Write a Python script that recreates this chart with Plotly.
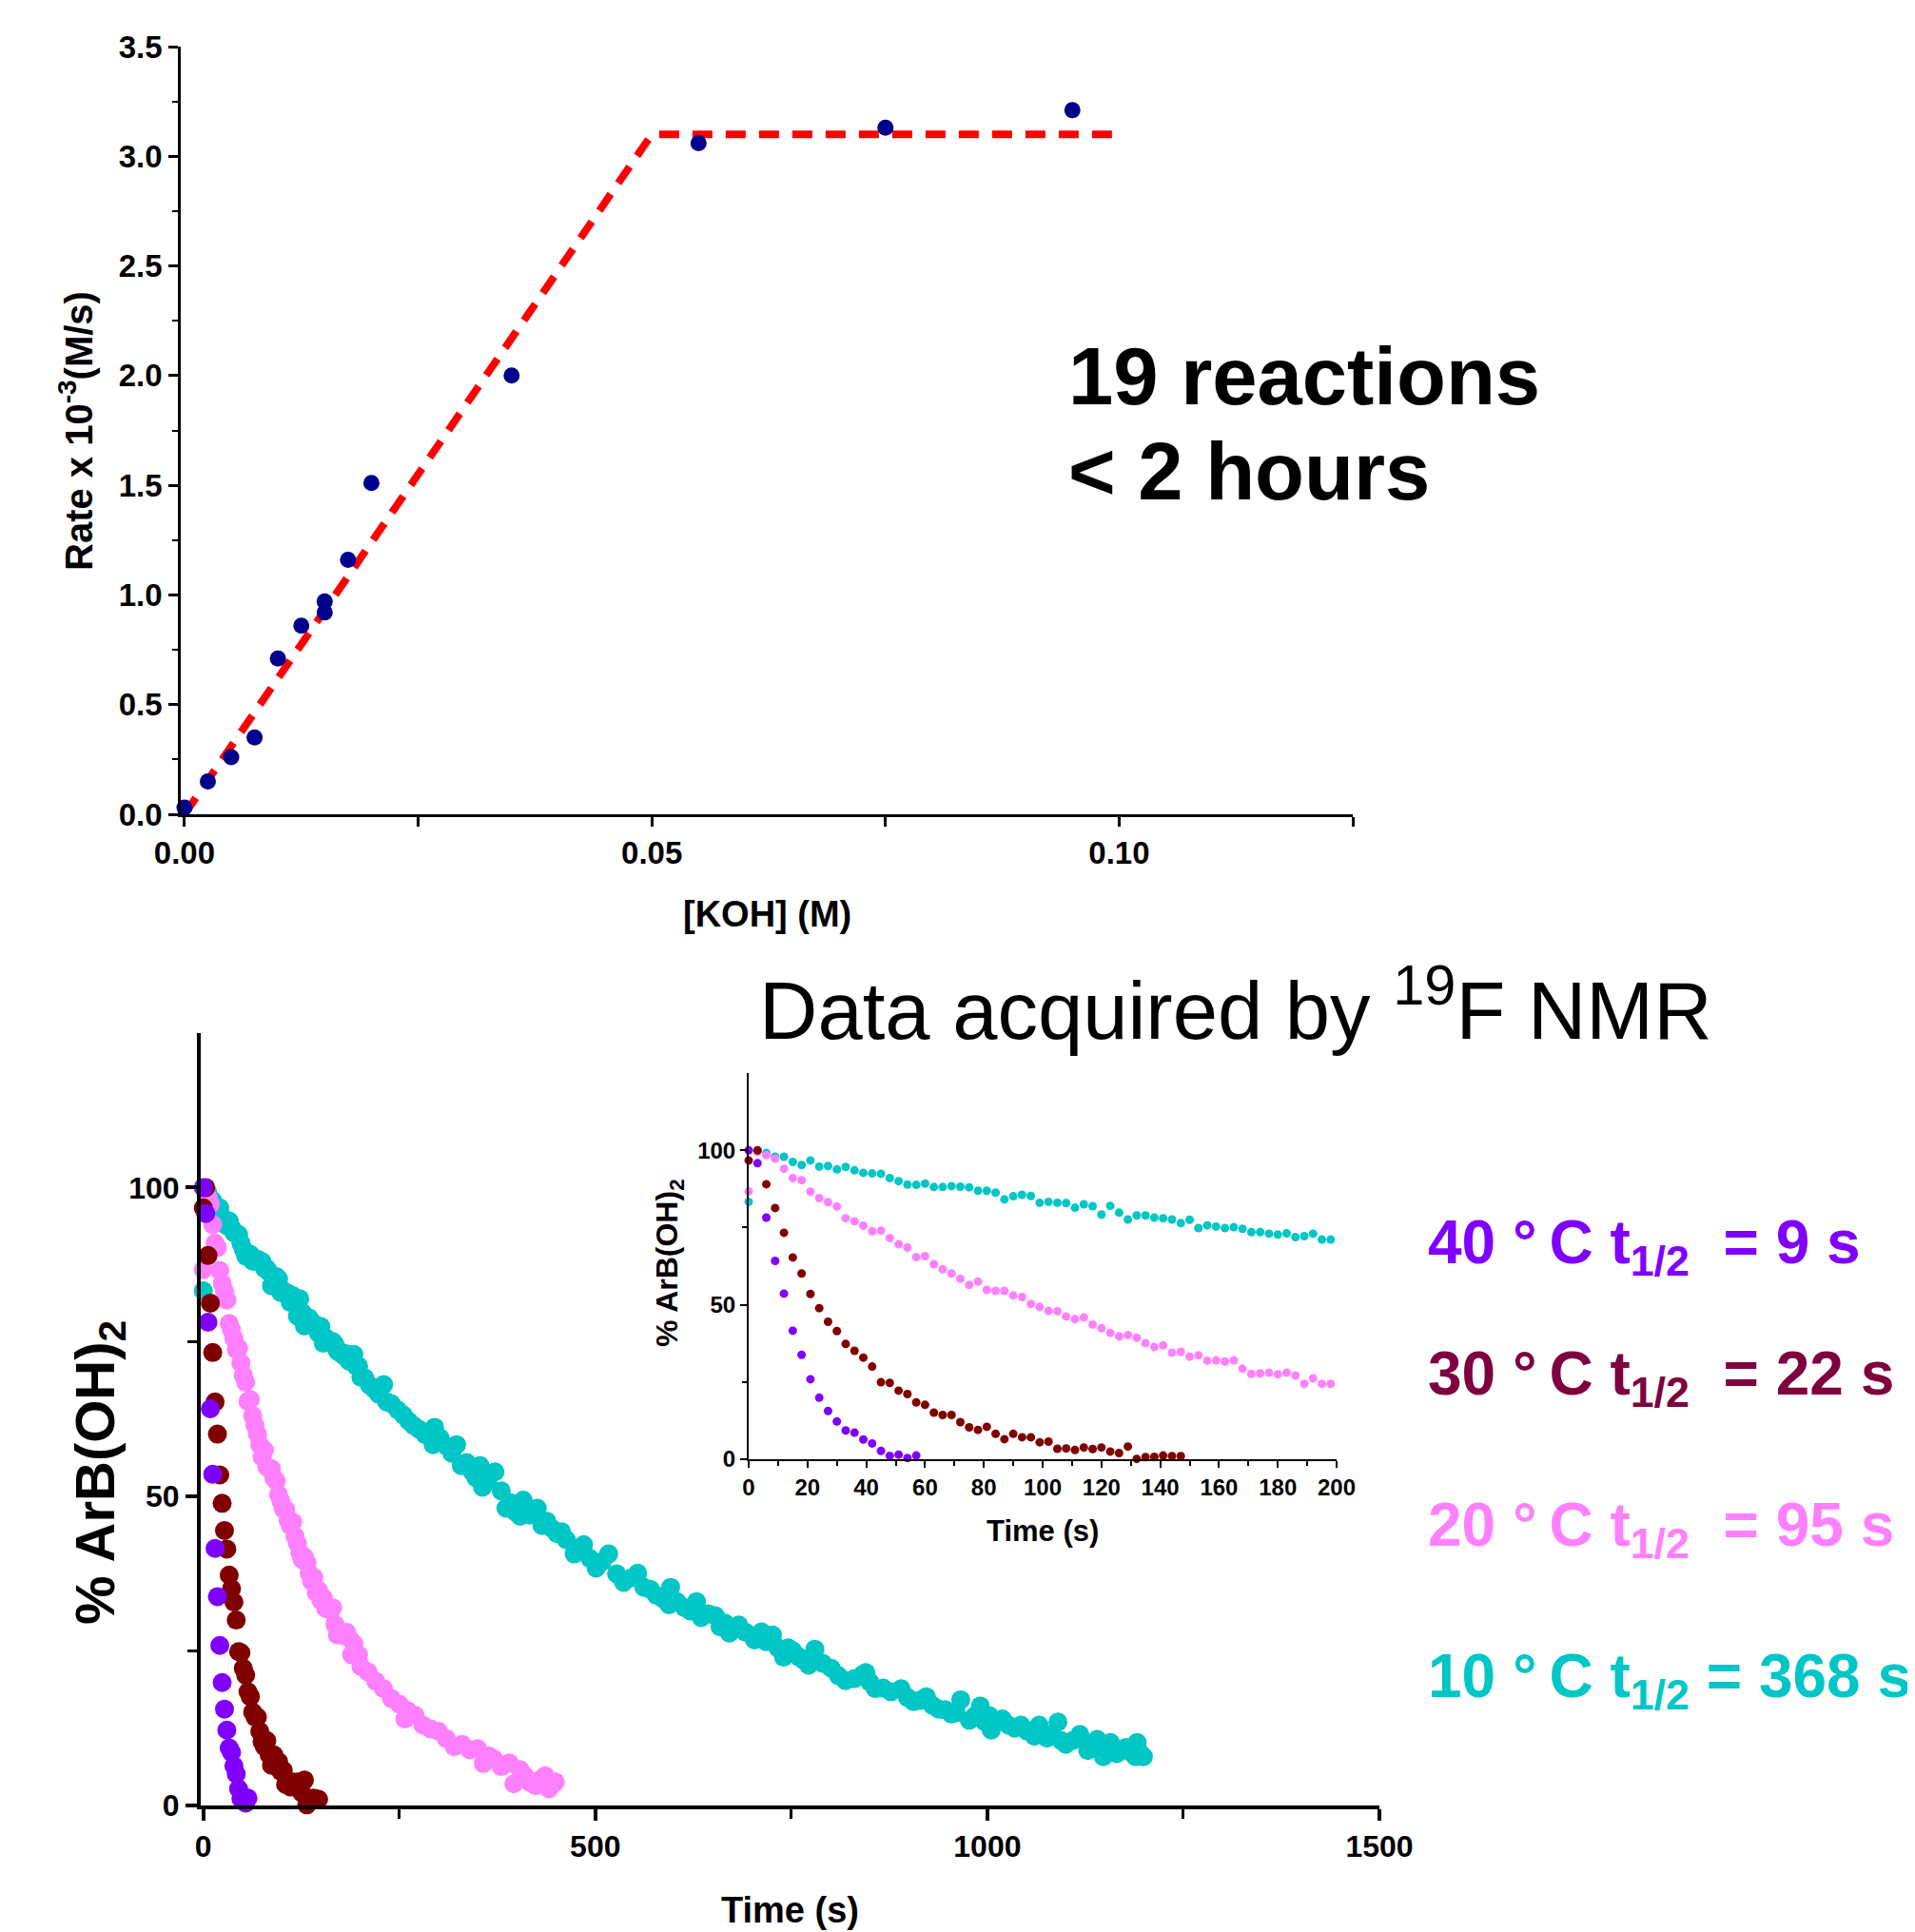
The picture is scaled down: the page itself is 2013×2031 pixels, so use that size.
import plotly.graph_objects as go

# ---- top panel: rate vs [KOH] ----
koh = [0.0, 0.0025, 0.005, 0.0075, 0.010, 0.0125, 0.015, 0.015, 0.0175, 0.020, 0.035, 0.055, 0.075, 0.095]
rate = [0.03, 0.15, 0.26, 0.35, 0.71, 0.86, 0.97, 0.92, 1.16, 1.51, 2.00, 3.06, 3.13, 3.21]
fit_koh = [0.0, 0.05, 0.10]
fit_rate = [0.0, 3.1, 3.1]

# ---- bottom panel: % ArB(OH)2 vs time, one reading every 3 s up to 201 s ----
purple_t = list(range(0, 61, 3))
purple = [100, 95.8, 78.2, 64.2, 53.6, 41.6, 33.8, 25.9, 19.9, 15.6, 12.2, 9.3, 8.6, 6.4,
          5.1, 2.7, 1.1, 1.5, 0.4, 1.2, -0.3]

maroon_t = list(range(0, 148, 3))
maroon = [96.7, 100, 89, 81.3, 73.3, 65.3, 60.1, 53.5, 48.9, 44.5, 41.5, 37.3, 35.1, 32.9, 30,
          24.9, 24.7, 22.2, 21.1, 18.4, 17.6, 15.1, 14.3, 14.3, 12, 10.3, 9.5, 10.5, 8.2, 6.5,
          8.2, 7.1, 7.1, 5.5, 5.7, 3.4, 3.5, 3, 3.8, 3.3, 3.8, 2.5, 2, 4.1, 0.1, 0.7, 0.8, 1.2, 1, 1]

pink_t = list(range(0, 202, 3))
pink = [86.7, 99.5, 98.4, 97.3, 94.0, 91.0, 90.3, 86.6, 84.5, 83.2, 81.8, 78.0, 77.0, 75.6, 73.8,
        74.0, 71.6, 69.6, 68.5, 65.4, 65.7, 63.1, 61.5, 60.1, 58.4, 56.4, 57.5, 54.8, 54.5, 54.5,
        53.0, 52.5, 50.3, 49.3, 48.0, 47.9, 46.2, 45.3, 45.9, 43.6, 42.4, 40.9, 39.8, 40.2, 39.3,
        37.6, 36.3, 36.9, 34.5, 34.8, 33.2, 33.6, 31.9, 32.0, 31.6, 32.0, 29.3, 27.6, 27.8, 28.0,
        27.5, 28.0, 27.1, 24.4, 26.2, 24.4, 24.4, 22.5]
pink_ext_t = [210, 220, 230, 240, 250, 257, 260, 270, 280, 290, 300, 310, 320, 330, 340, 350, 357,
              364, 370, 380, 390, 396, 404, 410, 416, 424, 430, 436, 441, 449]
pink_ext = [21.6, 20.1, 18.9, 17.3, 16.4, 14.0, 15.4, 14.6, 13.0, 12.4, 12.0, 10.8, 9.5, 9.9, 9.0,
            9.2, 6.8, 8.0, 7.6, 6.3, 6.9, 3.5, 5.8, 4.8, 3.8, 3.2, 4.2, 4.8, 2.7, 3.8]

teal_t = list(range(0, 202, 3))
teal = [83.3, 99.8, 99.1, 97.9, 97.9, 96.2, 95.2, 96.7, 94.7, 94.9, 93.8, 94.6, 93.5, 92.7, 92.5,
        92.4, 91.0, 90.0, 88.9, 88.8, 89.2, 88.1, 88.1, 88.4, 88.2, 88.0, 86.9, 86.9, 86.3, 84.1,
        85.1, 85.6, 85.2, 83.0, 83.3, 83.0, 82.9, 81.4, 82.5, 81.9, 79.2, 82.0, 79.8, 77.6, 78.9,
        78.9, 78.2, 78.0, 77.6, 76.4, 77.5, 74.8, 75.7, 75.3, 74.8, 75.1, 74.6, 73.5, 73.5, 73.0,
        72.7, 73.1, 71.9, 72.2, 73.0, 71.1, 71.1, 69.3]
teal_ext_t = [206, 212, 218, 224, 230, 234, 240, 248, 255, 262, 268, 275, 283, 293, 295, 302, 311,
              317, 323, 329, 336, 343, 348, 353, 356, 363, 372, 380, 386, 392, 398, 404, 408, 416,
              426, 432, 438, 445, 451, 457, 463, 473, 479, 485, 493, 501, 509, 517, 527, 536, 545,
              554, 562, 570, 578, 586, 594, 596, 604, 614, 621, 629, 635, 644, 653, 659, 665, 671,
              677, 683, 692, 703, 712, 718, 726, 733, 740, 746, 752, 760, 766, 772, 780, 790, 801,
              810, 819, 830, 841, 845, 850, 857, 867, 877, 890, 898, 906, 914, 922, 930, 938, 946,
              954, 960, 966, 977, 984, 991, 997, 1003, 1005, 1012, 1019, 1027, 1035, 1043, 1051,
              1060, 1066, 1070, 1076, 1083, 1090, 1094, 1100, 1109, 1118, 1128, 1134, 1140, 1148,
              1152, 1157, 1165, 1171, 1177, 1184, 1189, 1191, 1195, 1199]
teal_ext = [69.2, 68.0, 67.4, 66.5, 68.1, 65.3, 65.0, 64.0, 63.2, 62.2, 61.5, 60.9, 60.0, 58.4, 61.2,
            59.5, 58.1, 57.0, 58.4, 55.0, 55.5, 54.0, 53.0, 55.0, 51.5, 52.5, 54.0, 50.9, 48.1, 49.0,
            47.5, 46.8, 49.4, 47.0, 48.1, 45.3, 46.0, 44.8, 44.0, 44.3, 43.0, 40.7, 41.5, 42.2, 40.0,
            38.4, 39.5, 40.7, 37.5, 36.1, 36.8, 37.6, 35.3, 35.0, 34.0, 33.5, 32.5, 35.3, 33.0, 32.0,
            31.5, 33.0, 30.4, 31.0, 30.7, 28.9, 29.5, 27.9, 28.5, 29.2, 28.0, 26.8, 28.1, 26.5, 27.6,
            25.5, 24.0, 25.5, 25.0, 24.0, 23.5, 22.7, 25.3, 23.0, 22.2, 21.0, 20.2, 20.5, 21.2, 21.5,
            20.0, 18.9, 19.0, 18.4, 18.9, 17.5, 16.8, 17.0, 17.6, 16.2, 15.6, 15.5, 14.8, 15.0, 17.1,
            13.8, 14.5, 16.1, 13.5, 14.5, 12.2, 13.5, 14.0, 13.0, 12.5, 13.0, 12.0, 11.2, 13.0, 11.5,
            10.9, 11.5, 13.5, 10.5, 9.9, 10.5, 11.5, 8.9, 9.5, 10.7, 7.9, 9.0, 10.2, 8.4, 9.0, 9.4,
            8.5, 7.9, 10.2, 8.5, 7.9]

labels = ["40 °\u2009C t<sub>1/2</sub>\u00a0 = 9 s", "30 °\u2009C t<sub>1/2</sub>\u00a0 = 22 s",
          "20 °\u2009C t<sub>1/2</sub>\u00a0 = 95 s", "10 °\u2009C t<sub>1/2</sub> = 368 s"]

C_PURPLE = "#8000FF"
C_MAROON = "#800000"
C_PINK = "#FF80FF"
C_TEAL = "#00C6C6"
label_colors = [C_PURPLE, "#7F003F", C_PINK, C_TEAL]

W, H = 2013, 2031
OFF = 8  # the page body adds an 8px margin
FONT = "Liberation Sans, Arial, sans-serif"


def fx(p):
    return (p - OFF) / W


def fy(p):
    return 1 - (p - OFF) / H


fig = go.Figure()

# top panel
fig.add_trace(go.Scatter(x=fit_koh, y=fit_rate, mode="lines", xaxis="x", yaxis="y",
                         line=dict(color="#FF0000", width=8, dash="21px,14px"), cliponaxis=False))
fig.add_trace(go.Scatter(x=koh, y=rate, mode="markers", xaxis="x", yaxis="y",
                         marker=dict(color="#00008B", size=17), cliponaxis=False))

# main decay plot
series = [(teal_t + teal_ext_t, teal + teal_ext, C_TEAL),
          (pink_t + pink_ext_t, pink + pink_ext, C_PINK),
          (maroon_t, maroon, C_MAROON),
          (purple_t, purple, C_PURPLE)]
for t, v, c in series:
    fig.add_trace(go.Scatter(x=t, y=v, mode="markers", xaxis="x2", yaxis="y2",
                             marker=dict(color=c, size=20), cliponaxis=False))

# inset (first 200 s)
inset = [(teal_t, teal, C_TEAL), (pink_t, pink, C_PINK),
         (maroon_t, maroon, C_MAROON), (purple_t, purple, C_PURPLE)]
for t, v, c in inset:
    fig.add_trace(go.Scatter(x=t, y=v, mode="markers", xaxis="x3", yaxis="y3",
                             marker=dict(color=c, size=9), cliponaxis=False))

tick_font_top = dict(family=FONT, size=33, color="black", weight="bold")
tick_font_main = dict(family=FONT, size=32, color="black", weight="bold")
tick_font_inset = dict(family=FONT, size=24, color="black", weight="bold")

common = dict(showline=True, linecolor="black", showgrid=False, zeroline=False,
              automargin=False, tickcolor="black")

fig.update_layout(
    template="none",
    width=W, height=H,
    margin=dict(l=0, r=0, t=0, b=0, pad=0),
    plot_bgcolor="white", paper_bgcolor="white",
    showlegend=False,
    xaxis=dict(domain=[fx(190), fx(1422)], range=[-0.0004, 0.125], anchor="y",
               tickvals=[0, 0.05, 0.10], tickformat=".2f", ticks="outside", ticklen=10, tickwidth=2.5,
               minor=dict(dtick=0.025, tick0=0, ticks="outside", ticklen=10, tickwidth=2.5),
               linewidth=2.5, tickfont=tick_font_top, **common),
    yaxis=dict(domain=[fy(856), fy(49)], range=[0, 3.5], anchor="x",
               dtick=0.5, tickformat=".1f", ticks="outside", ticklen=10, tickwidth=2.5,
               minor=dict(dtick=0.25, ticks="outside", ticklen=6, tickwidth=2),
               linewidth=2.5, tickfont=tick_font_top, **common),
    xaxis2=dict(domain=[fx(211), fx(1450)], range=[-3.3, 1500], anchor="y2",
                dtick=500, ticks="outside", ticklen=12, tickwidth=3.5,
                minor=dict(dtick=250, ticks="outside", ticklen=10, tickwidth=3),
                linewidth=4, tickfont=tick_font_main, **common),
    yaxis2=dict(domain=[fy(1898), fy(1086)], range=[0, 125], anchor="x2",
                tickvals=[0, 50, 100], ticks="outside", ticklen=12, tickwidth=3.5,
                minor=dict(tickvals=[25, 75], ticks="outside", ticklen=10, tickwidth=3),
                linewidth=4, tickfont=tick_font_main, **common),
    xaxis3=dict(domain=[fx(787), fx(1405)], range=[0, 200], anchor="y3",
                dtick=20, ticks="outside", ticklen=7, tickwidth=1.5,
                minor=dict(dtick=10, ticks="outside", ticklen=5, tickwidth=1.5),
                linewidth=2, tickfont=tick_font_inset, **common),
    yaxis3=dict(domain=[fy(1534), fy(1128)], range=[0, 125], anchor="x3",
                tickvals=[0, 50, 100], ticks="outside", ticklen=7, tickwidth=1.5,
                minor=dict(tickvals=[25, 75], ticks="outside", ticklen=5, tickwidth=1.5),
                linewidth=2, tickfont=tick_font_inset, **common),
)


def note(text, x, y, size, color="black", bold=True, xanchor="center", yanchor="middle", angle=0):
    fig.add_annotation(text=text, x=fx(x), y=fy(y), xref="paper", yref="paper",
                       xanchor=xanchor, yanchor=yanchor, textangle=angle, showarrow=False,
                       font=dict(family=FONT, size=size, color=color,
                                 weight="bold" if bold else "normal"))


# axis titles
note("Rate x 10<sup>-3</sup>(M/s)", 80, 453, 40, angle=-90)
note("[KOH] (M)", 806, 961, 38)
note("% ArB(OH)<sub>2</sub>", 104, 1548, 58, angle=-90)
note("Time (s)", 830, 2008, 38)
note("% ArB(OH)<sub>2</sub>", 703, 1328, 32, angle=-90)
note("Time (s)", 1096, 1609, 31)

# text blocks
note("19 reactions", 1121, 395, 85, xanchor="left")
note("< 2 hours", 1121, 496, 85, xanchor="left")
note("Data acquired by <sup>19</sup>F NMR", 1299, 1056, 85, bold=False)

label_y = [1310, 1448, 1607, 1766]
for txt, yy, col in zip(labels, label_y, label_colors):
    note(txt, 1499, yy, 64, color=col, xanchor="left")

fig.write_html("out.html")
